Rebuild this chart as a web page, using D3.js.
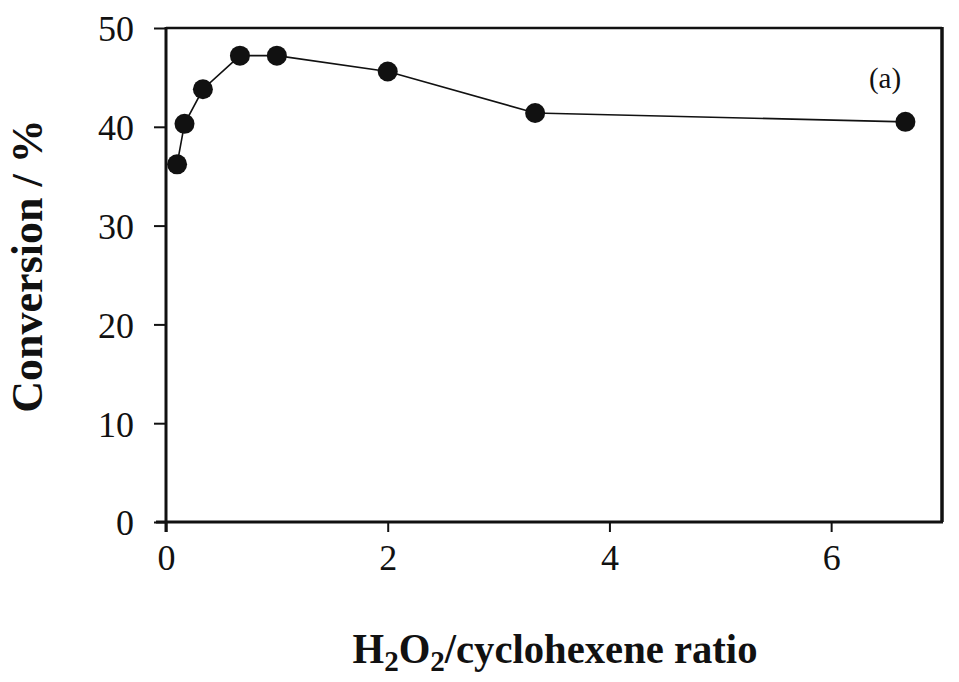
<!DOCTYPE html>
<html>
<head>
<meta charset="utf-8">
<script src="https://cdn.jsdelivr.net/npm/d3@7"></script>
<style>
  html, body { margin: 0; padding: 0; background: #fff; }
  svg { display: block; }
  .tick text { font-family: "Liberation Serif", "Times New Roman", serif; fill: #111; }
</style>
</head>
<body>
<svg id="chart" width="959" height="682"></svg>
<script>
// H2O2 / cyclohexene molar ratio and the resulting conversion (%)
const ratio = [0.1, 0.167, 0.333, 0.667, 1, 2, 3.33, 6.67];
const conversion = [36.2, 40.3, 43.8, 47.2, 47.2, 45.6, 41.4, 40.5];

const xTicks = [0, 2, 4, 6];
const yTicks = [0, 10, 20, 30, 40, 50];
const panelLabel = "(a)";

const W = 959, H = 682;
const m = { left: 166, right: 17, top: 28, bottom: 160 };

const svg = d3.select("#chart");

const x = d3.scaleLinear().domain([0, 7]).range([m.left, W - m.right]);
const y = d3.scaleLinear().domain([0, 50]).range([H - m.bottom, m.top]);

const ink = "#111";

// frame: top and right edges
svg.append("line")
  .attr("x1", x(0)).attr("x2", x(7))
  .attr("y1", y(50)).attr("y2", y(50))
  .attr("stroke", ink).attr("stroke-width", 2.5);
svg.append("line")
  .attr("x1", x(7)).attr("x2", x(7))
  .attr("y1", y(50) - 1).attr("y2", y(0))
  .attr("stroke", ink).attr("stroke-width", 3.5);

// x axis
const gx = svg.append("g")
  .attr("transform", `translate(0,${y(0)})`)
  .call(d3.axisBottom(x).tickValues(xTicks).tickFormat(d3.format("d"))
    .tickSize(10).tickSizeOuter(0).tickPadding(12));
gx.select(".domain").attr("stroke", ink).attr("stroke-width", 3)
  .attr("d", `M${x(0) - 10},0H${x(7) + 1}`);
gx.selectAll(".tick line").attr("stroke", ink).attr("stroke-width", 2);
gx.selectAll(".tick text").attr("font-size", 36).attr("dy", "0.71em");

// y axis
const gy = svg.append("g")
  .attr("transform", `translate(${x(0)},0)`)
  .call(d3.axisLeft(y).tickValues(yTicks).tickFormat(d3.format("d"))
    .tickSize(12).tickSizeOuter(0).tickPadding(20));
gy.select(".domain").attr("stroke", ink).attr("stroke-width", 3)
  .attr("d", `M0,${y(50) - 1}V${y(0) + 10}`);
gy.selectAll(".tick line").attr("stroke", ink).attr("stroke-width", 2);
gy.selectAll(".tick text").attr("font-size", 36).attr("dy", "0.36em");

// data line and markers
const pts = ratio.map((r, i) => [r, conversion[i]]);
svg.append("path")
  .datum(pts)
  .attr("fill", "none")
  .attr("stroke", ink)
  .attr("stroke-width", 1.6)
  .attr("d", d3.line().x(d => x(d[0])).y(d => y(d[1])));

svg.append("g").selectAll("circle")
  .data(pts)
  .join("circle")
  .attr("cx", d => x(d[0]))
  .attr("cy", d => y(d[1]))
  .attr("r", 10)
  .attr("fill", ink);

// panel tag
svg.append("text")
  .attr("x", 885).attr("y", 88)
  .attr("text-anchor", "middle")
  .attr("font-family", "Liberation Serif, serif")
  .attr("font-size", 29)
  .attr("fill", ink)
  .text(panelLabel);

// axis titles
svg.append("text")
  .attr("transform", `translate(42,266) rotate(-90)`)
  .attr("text-anchor", "middle")
  .attr("font-family", "Liberation Serif, serif")
  .attr("font-weight", "bold")
  .attr("font-size", 44)
  .attr("fill", ink)
  .text("Conversion / %");

const xt = svg.append("text")
  .attr("x", 555).attr("y", 663)
  .attr("text-anchor", "middle")
  .attr("font-family", "Liberation Serif, serif")
  .attr("font-weight", "bold")
  .attr("font-size", 42)
  .attr("textLength", 405)
  .attr("lengthAdjust", "spacingAndGlyphs")
  .attr("fill", ink);
xt.append("tspan").text("H");
xt.append("tspan").attr("font-size", 30).attr("dy", 8).text("2");
xt.append("tspan").attr("dy", -8).text("O");
xt.append("tspan").attr("font-size", 30).attr("dy", 8).text("2");
xt.append("tspan").attr("dy", -8).text("/cyclohexene ratio");
</script>
</body>
</html>
